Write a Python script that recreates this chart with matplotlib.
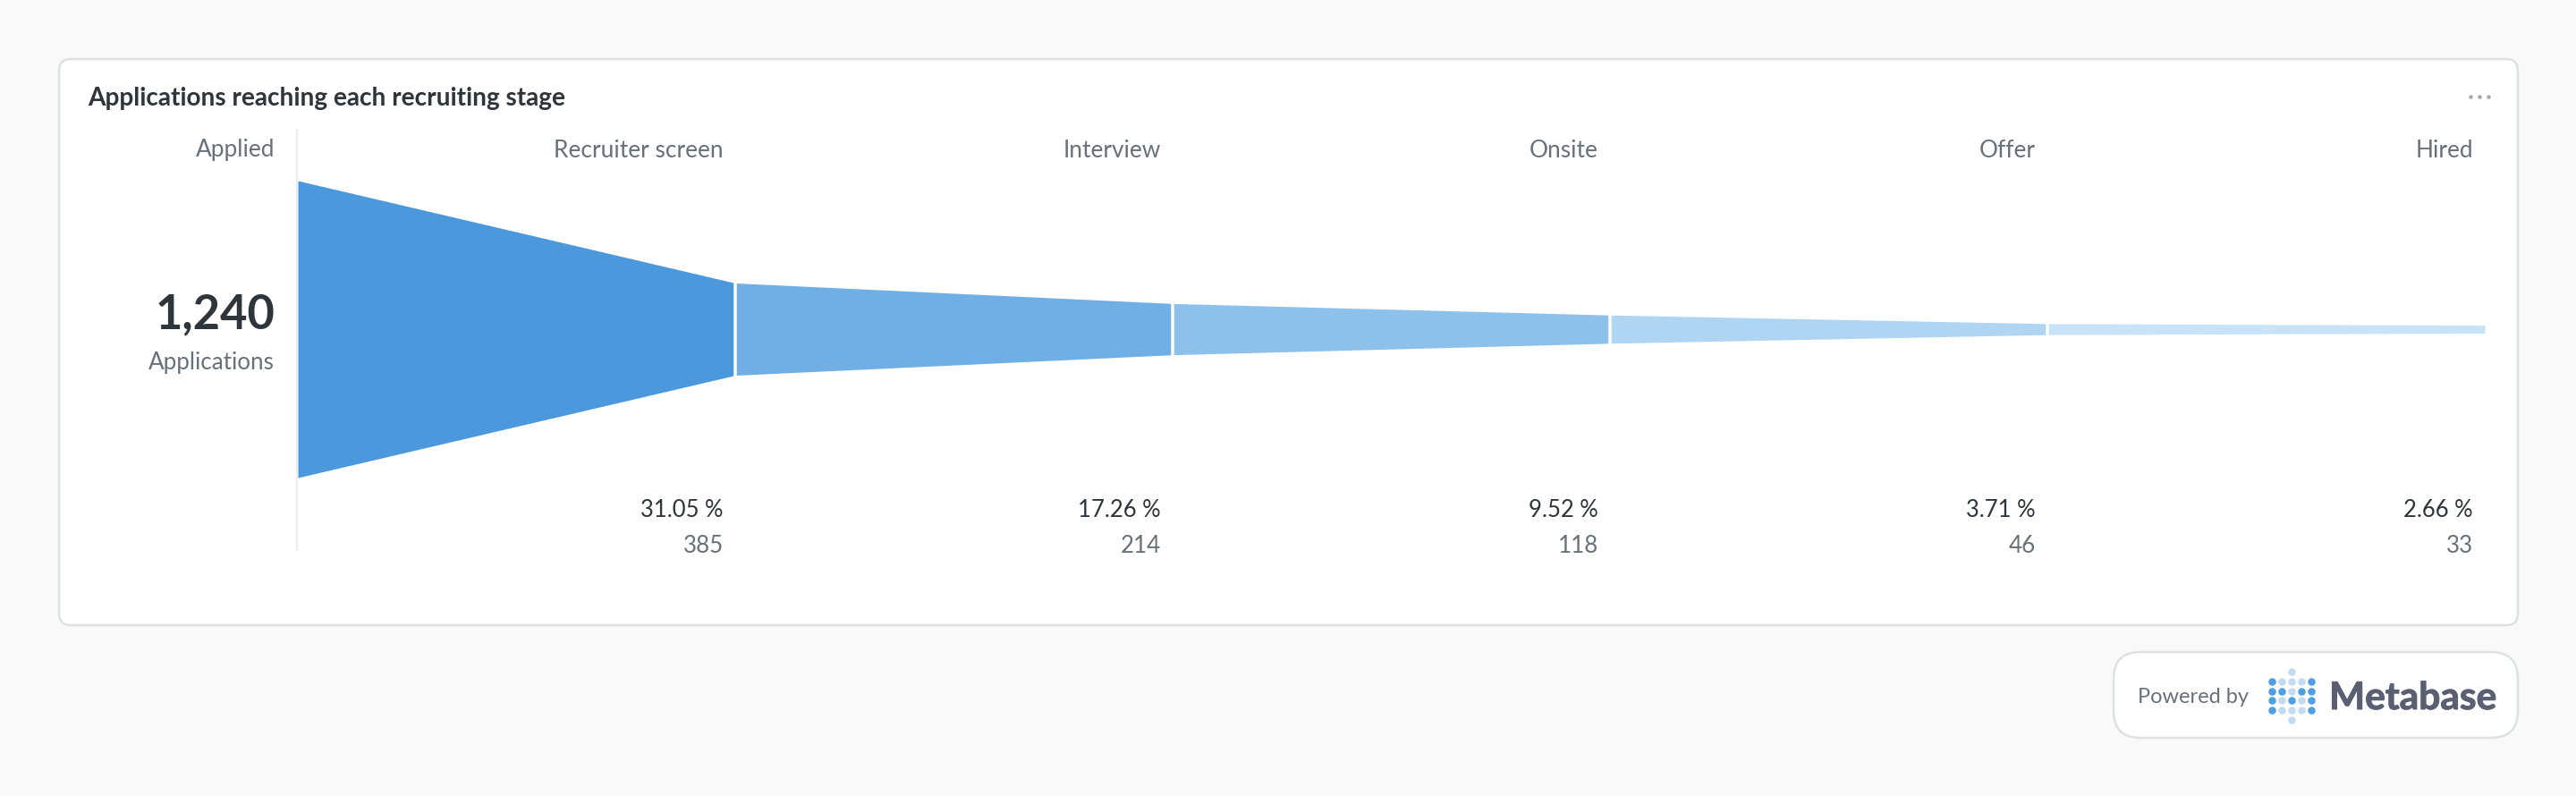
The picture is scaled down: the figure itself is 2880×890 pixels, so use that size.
#!/usr/bin/env python3
"""Recruiting funnel card: applications reaching each stage."""
import numpy as np
import matplotlib
matplotlib.use("Agg")
import matplotlib.pyplot as plt
import matplotlib.patheffects as pe
from matplotlib.patches import FancyBboxPatch

STAGES = ["Applied", "Recruiter screen", "Interview", "Onsite", "Offer", "Hired"]
COUNTS = [1240, 385, 214, 118, 46, 33]
PERCENTS = ["31.05 %", "17.26 %", "9.52 %", "3.71 %", "2.66 %"]
COUNT_LABELS = ["385", "214", "118", "46", "33"]
TITLE = "Applications reaching each recruiting stage"
SEG_COLORS = ["#4C98DD", "#6FAFE5", "#8DC1EB", "#AFD5F3", "#C8E3F8"]

# logo dot grid: 0 none, 1 light, 2 dark
LOGO = [[0, 0, 1, 0, 0],
        [2, 1, 1, 1, 2],
        [2, 2, 1, 2, 2],
        [2, 1, 2, 1, 2],
        [2, 1, 1, 1, 2],
        [0, 0, 1, 0, 0]]

W, H = 2880, 890
BG, BORDER, DARK, GREY = "#F9F9F9", "#DDE1E2", "#2E353B", "#68717A"
plt.rcParams["font.family"] = ["Lato", "Open Sans", "DejaVu Sans"]


def px(n):
    # font size / offset given in image pixels
    return n * 72 / 100


def rounded(ax, x0, y0, x1, y1, r):
    ax.add_patch(FancyBboxPatch((x0 + r, y0 + r), x1 - x0 - 2 * r, y1 - y0 - 2 * r,
                                boxstyle=f"round,pad={r},rounding_size={r}",
                                fc="white", ec=BORDER, lw=px(2.5)))


fig = plt.figure(figsize=(W / 100, H / 100), dpi=100, facecolor=BG)
pix = fig.add_axes([0, 0, 1, 1])
pix.set_xlim(0, W); pix.set_ylim(H, 0); pix.axis("off")

rounded(pix, 66, 66, 2815, 699, 13)
rounded(pix, 2363, 729, 2815, 825, 30)

pix.text(98, 110, TITLE, fontsize=px(28), fontweight="bold", color=DARK, va="center")
pix.scatter([2762, 2772, 2782], [108, 108, 108], s=px(4.5) ** 2, color="#A3A9AE", lw=0)
pix.plot([332, 332], [144, 616], color="#EBEDEE", lw=px(2), solid_capstyle="butt")

# funnel
fx0, fx1, fy0, fy1 = 333, 2778, 202, 534
ax = fig.add_axes([fx0 / W, 1 - fy1 / H, (fx1 - fx0) / W, (fy1 - fy0) / H])
ax.set_xlim(0, len(STAGES) - 1); ax.set_ylim(-COUNTS[0] / 2, COUNTS[0] / 2); ax.axis("off")
ax.patch.set_alpha(0)
counts = np.array(COUNTS, float)
for i, color in enumerate(SEG_COLORS):
    xs = [i, i + 1]
    half = counts[i:i + 2] / 2
    ax.fill_between(xs, -half, half, color=color, lw=0)
ax.vlines(range(1, len(STAGES) - 1), -COUNTS[0] / 2, COUNTS[0] / 2, color="white", lw=px(3.5))

# stage columns, right aligned just before each segment's end
coords = (ax.transData, pix.transData)
for i, name in enumerate(STAGES[1:]):
    kw = dict(xycoords=coords, textcoords="offset points", ha="right", va="center")
    ax.annotate(name, (i + 1, 168), xytext=(px(-13), 0), fontsize=px(26.2), color=GREY, **kw)
    ax.annotate(PERCENTS[i], (i + 1, 570), xytext=(px(-13), 0), fontsize=px(25.6), color=DARK, **kw)
    ax.annotate(COUNT_LABELS[i], (i + 1, 610), xytext=(px(-13), 0), fontsize=px(26), color=GREY, **kw)

pix.text(307, 168, STAGES[0], fontsize=px(26.2), color=GREY, ha="right", va="center")
pix.text(307, 352, f"{COUNTS[0]:,}", fontsize=px(52.5), fontweight="bold", color=DARK, ha="right", va="center")
pix.text(307, 405, "Applications", fontsize=px(26), color=GREY, ha="right", va="center")

# badge
pix.text(2390, 780, "Powered by", fontsize=px(23.6), color=GREY, va="center")
grid = np.array(LOGO)
for (r, c), v in np.ndenumerate(grid):
    if v:
        pix.scatter(2540 + c * 11, 751 + r * 10.8, s=px(8.5) ** 2, lw=0,
                    color="#509EE3" if v == 2 else "#C3DBF2")
logo = pix.text(2604, 793, "Metabase", fontsize=px(42.5), fontweight="bold", color="#5A6072", va="baseline")
logo.set_path_effects([pe.withStroke(linewidth=px(1), foreground="#5A6072")])

fig.savefig("out.png", dpi=100, facecolor=BG)
